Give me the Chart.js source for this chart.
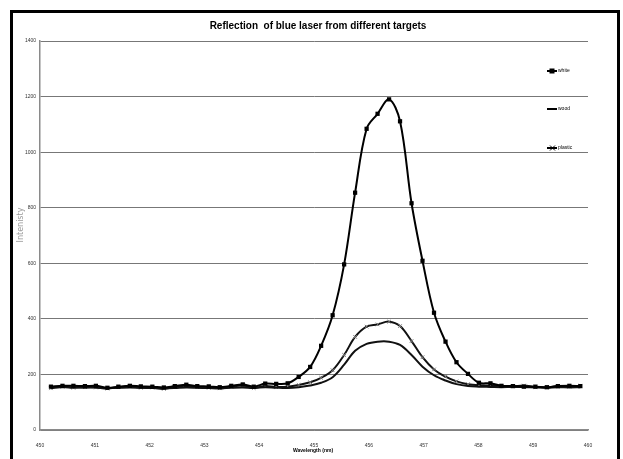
<!DOCTYPE html>
<html>
<head>
<meta charset="utf-8">
<script src="https://cdn.jsdelivr.net/npm/chart.js@4/dist/chart.umd.min.js"></script>
<style>
html,body{margin:0;padding:0;background:#fff;}
canvas{display:block;}
</style>
</head>
<body>
<canvas id="c" width="623" height="459"></canvas>
<script>
const wavelengths = [450.20,450.41,450.61,450.82,451.02,451.23,451.43,451.64,451.84,452.05,
452.26,452.46,452.67,452.87,453.08,453.28,453.49,453.70,453.90,454.11,
454.31,454.52,454.72,454.93,455.13,455.34,455.55,455.75,455.96,456.16,
456.37,456.57,456.78,456.98,457.19,457.40,457.60,457.81,458.01,458.22,
458.42,458.63,458.83,459.04,459.25,459.45,459.66,459.86];

const white = [156,159,159,158,159,152,156,159,157,156,
153,158,163,158,157,154,159,164,156,167,
166,168,191,227,303,413,596,854,1084,1138,
1190,1111,816,609,422,318,244,202,170,168,
159,158,156,156,154,158,159,158];

const wood = [152,154,153,152,153,151,152,153,152,151,
150,151,153,152,151,150,152,153,151,154,
152,151,154,160,170,190,235,285,310,318,
318,306,270,228,197,178,165,158,156,155,
154,155,154,153,152,154,153,154];

const plastic = [150,156,152,155,153,149,154,157,152,153,
148,155,159,154,152,150,156,160,151,158,
155,156,162,172,188,215,270,335,372,380,
390,374,320,262,218,192,175,165,161,160,
158,157,160,155,153,158,156,159];

const seriesNames = ["white","wood","plastic"];
const yTicks = [0,200,400,600,800,1000,1200,1400];
const xTicks = [450,451,452,453,454,455,456,457,458,459,460];

const titleText = "Reflection  of blue laser from different targets";
const xTitle = "Wavelength (nm)";
const yTitle = "Intenisty";

function pts(arr){ return wavelengths.map((w,i)=>({x:w,y:arr[i]})); }

const decor = {
  id:'decor',
  afterDraw(chart){
    const ctx = chart.ctx;
    ctx.save();
    ctx.fillStyle = '#000';
    ctx.font = 'bold 10px "Liberation Sans Narrow", "Liberation Sans", Arial';
    ctx.textAlign = 'center';
    ctx.textBaseline = 'middle';
    ctx.fillText(titleText, 318, 26);
    ctx.font = 'bold 5px "Liberation Sans Narrow", "Liberation Sans", Arial';
    ctx.fillText(xTitle, 313, 451);
    ctx.save();
    ctx.translate(21, 225);
    ctx.rotate(-Math.PI/2);
    ctx.fillStyle = '#9a9a9a';
    ctx.font = '8px "DejaVu Sans", Arial';
    ctx.fillText(yTitle, 0, 0);
    ctx.restore();
    const ly = [71, 109, 148];
    chart.data.datasets.forEach((ds, i) => {
      const y = ly[i];
      ctx.strokeStyle = '#000';
      ctx.lineWidth = 2;
      ctx.beginPath(); ctx.moveTo(547, y); ctx.lineTo(557, y); ctx.stroke();
      if (ds.pointStyle === 'rect') {
        ctx.fillStyle = '#000';
        ctx.fillRect(549.5, y-2.5, 5, 5);
      } else if (ds.pointStyle === 'crossRot') {
        ctx.lineWidth = 1;
        ctx.beginPath();
        ctx.moveTo(550, y-2.5); ctx.lineTo(555, y+2.5);
        ctx.moveTo(550, y+2.5); ctx.lineTo(555, y-2.5);
        ctx.stroke();
      }
      ctx.fillStyle = '#000';
      ctx.font = '5px "Liberation Sans Narrow", "Liberation Sans", Arial';
      ctx.textAlign = 'left';
      ctx.fillText(ds.label, 558, y);
    });
    ctx.strokeStyle = '#000';
    ctx.lineWidth = 3;
    ctx.strokeRect(11.5, 11.5, 607, 470);
    ctx.restore();
  }
};

new Chart(document.getElementById('c'), {
  type: 'line',
  data: {
    datasets: [
      {label: seriesNames[0], data: pts(white), borderColor:'#000', backgroundColor:'#000',
       borderWidth:2, pointStyle:'rect', pointRadius:3, pointBorderWidth:0, tension:0.35},
      {label: seriesNames[1], data: pts(wood), borderColor:'#111', backgroundColor:'#111',
       borderWidth:2, pointRadius:0, tension:0.35},
      {label: seriesNames[2], data: pts(plastic), borderColor:'#111', backgroundColor:'#111',
       borderWidth:2, pointStyle:'crossRot', pointRadius:2.5, pointBorderColor:'#777', pointBorderWidth:1, tension:0.35}
    ]
  },
  options: {
    responsive:false,
    animation:false,
    layout:{padding:{top:41,right:35,left:0,bottom:0}},
    plugins:{legend:{display:false}, title:{display:false}, tooltip:{enabled:false}},
    scales:{
      x:{
        type:'linear', min:450, max:460,
        afterBuildTicks: s => { s.ticks = xTicks.map(v=>({value:v})); },
        afterFit: s => { s.height = 29; },
        grid:{display:false},
        border:{display:true, color:'#8a8a8a', width:1.5},
        ticks:{color:'#333', font:{size:5, family:'"Liberation Sans Narrow", Arial'}, padding:5, maxRotation:0, autoSkip:false,
               callback: v => String(v)}
      },
      y:{
        min:0, max:1400,
        afterBuildTicks: s => { s.ticks = yTicks.map(v=>({value:v})); },
        afterFit: s => { s.width = 40; },
        grid:{display:true, color:'#777', lineWidth:1, drawTicks:false},
        border:{display:true, color:'#8a8a8a', width:1.5},
        ticks:{color:'#333', font:{size:5, family:'"Liberation Sans Narrow", Arial'}, padding:4,
               callback: v => String(v)}
      }
    }
  },
  plugins:[decor]
});
</script>
</body>
</html>
